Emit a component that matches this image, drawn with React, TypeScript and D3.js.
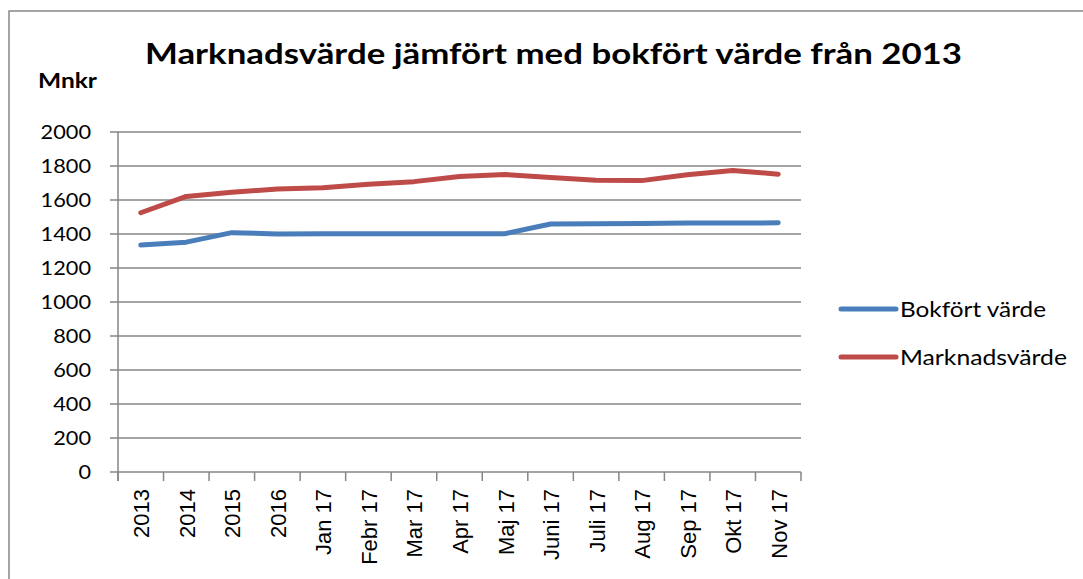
import { useEffect, useRef } from 'react';
import * as d3 from 'd3';

const categories = ['2013', '2014', '2015', '2016', 'Jan 17', 'Febr 17', 'Mar 17', 'Apr 17', 'Maj 17', 'Juni 17', 'Juli 17', 'Aug 17', 'Sep 17', 'Okt 17', 'Nov 17'];
const bokfortVarde = [1335, 1352, 1408, 1400, 1402, 1402, 1402, 1402, 1402, 1459, 1461, 1462, 1464, 1464, 1466];
const marknadsVarde = [1525, 1621, 1645, 1665, 1672, 1692, 1708, 1738, 1750, 1733, 1716, 1714, 1748, 1774, 1752];
const yTicks = [0, 200, 400, 600, 800, 1000, 1200, 1400, 1600, 1800, 2000];

const seriesNames = ['Bokfört värde', 'Marknadsvärde'];
const colors = ['#4A7EBB', '#BE4B48'];

export default function App() {
  const svgRef = useRef<SVGSVGElement>(null);

  useEffect(() => {
    if (!svgRef.current) return;
    const width = 1083;
    const height = 579;
    const left = 118;
    const right = 801;
    const top = 132;
    const bottom = 472;
    const grid = '#868686';

    const svg = d3.select(svgRef.current);
    svg.selectAll('*').remove();
    svg.attr('width', width).attr('height', height);

    svg.append('rect').attr('width', width).attr('height', height).attr('fill', '#fff');

    // outer frame
    svg
      .append('rect')
      .attr('x', 9)
      .attr('y', 11)
      .attr('width', 1100)
      .attr('height', 600)
      .attr('fill', 'none')
      .attr('stroke', grid)
      .attr('stroke-width', 1.5);

    const x = d3.scaleBand<string>().domain(categories).range([left, right]);
    const y = d3.scaleLinear().domain([0, 2000]).range([bottom, top]);

    // title + unit
    svg
      .append('text')
      .attr('x', 145)
      .attr('y', 64)
      .attr('textLength', 817)
      .attr('lengthAdjust', 'spacingAndGlyphs')
      .attr('font-family', 'Lato, sans-serif')
      .attr('font-weight', 700)
      .attr('font-size', 28)
      .text('Marknadsvärde jämfört med bokfört värde från 2013');

    svg
      .append('text')
      .attr('x', 38)
      .attr('y', 88)
      .attr('textLength', 59)
      .attr('lengthAdjust', 'spacingAndGlyphs')
      .attr('font-family', 'Lato, sans-serif')
      .attr('font-weight', 700)
      .attr('font-size', 20)
      .text('Mnkr');

    // gridlines and y labels
    svg
      .append('g')
      .selectAll('line')
      .data(yTicks)
      .join('line')
      .attr('x1', left - 8)
      .attr('x2', right)
      .attr('y1', (d) => y(d))
      .attr('y2', (d) => y(d))
      .attr('stroke', grid)
      .attr('stroke-width', 1.5);

    svg
      .append('g')
      .selectAll('text')
      .data(yTicks)
      .join('text')
      .attr('x', 91)
      .attr('y', (d) => y(d) + 7)
      .attr('text-anchor', 'end')
      .attr('textLength', (d) => String(d).length * 12.6)
      .attr('lengthAdjust', 'spacingAndGlyphs')
      .attr('font-family', 'Lato, sans-serif')
      .attr('font-size', 20)
      .attr('fill', '#000')
      .text((d) => d);

    // axes lines
    svg
      .append('line')
      .attr('x1', left)
      .attr('x2', left)
      .attr('y1', top)
      .attr('y2', bottom + 9)
      .attr('stroke', grid)
      .attr('stroke-width', 1.5);

    const boundaries = [...categories.map((c) => x(c)!), right];
    svg
      .append('g')
      .selectAll('line')
      .data(boundaries)
      .join('line')
      .attr('x1', (d) => d)
      .attr('x2', (d) => d)
      .attr('y1', bottom)
      .attr('y2', bottom + 9)
      .attr('stroke', grid)
      .attr('stroke-width', 1.5);

    // x labels
    svg
      .append('g')
      .selectAll('text')
      .data(categories)
      .join('text')
      .attr('transform', (d) => `translate(${x(d)! + x.bandwidth() / 2 + 1}, 489) rotate(-90)`)
      .attr('text-anchor', 'end')
      .attr('dominant-baseline', 'central')
      .attr('font-family', '"Liberation Sans", Arial, sans-serif')
      .attr('font-size', 22)
      .attr('fill', '#000')
      .text((d) => d);

    // lines
    const line = d3
      .line<number>()
      .x((_, i) => x(categories[i])! + x.bandwidth() / 2)
      .y((d) => y(d));

    [bokfortVarde, marknadsVarde].forEach((values, i) => {
      svg
        .append('path')
        .datum(values)
        .attr('d', line)
        .attr('fill', 'none')
        .attr('stroke', colors[i])
        .attr('stroke-width', 5)
        .attr('stroke-linecap', 'round')
        .attr('stroke-linejoin', 'round');
    });

    // legend
    const legendY = [309, 357];
    const legendLen = [146, 167];
    seriesNames.forEach((name, i) => {
      svg
        .append('line')
        .attr('x1', 841)
        .attr('x2', 896)
        .attr('y1', legendY[i])
        .attr('y2', legendY[i])
        .attr('stroke', colors[i])
        .attr('stroke-width', 5)
        .attr('stroke-linecap', 'round');
      svg
        .append('text')
        .attr('x', 900)
        .attr('y', legendY[i] + 8)
        .attr('textLength', legendLen[i])
        .attr('lengthAdjust', 'spacingAndGlyphs')
        .attr('font-family', 'Lato, sans-serif')
        .attr('font-size', 22)
        .attr('fill', '#000')
        .text(name);
    });
  }, []);

  return <svg ref={svgRef} style={{ position: 'absolute', left: 0, top: 0, display: 'block' }} />;
}
